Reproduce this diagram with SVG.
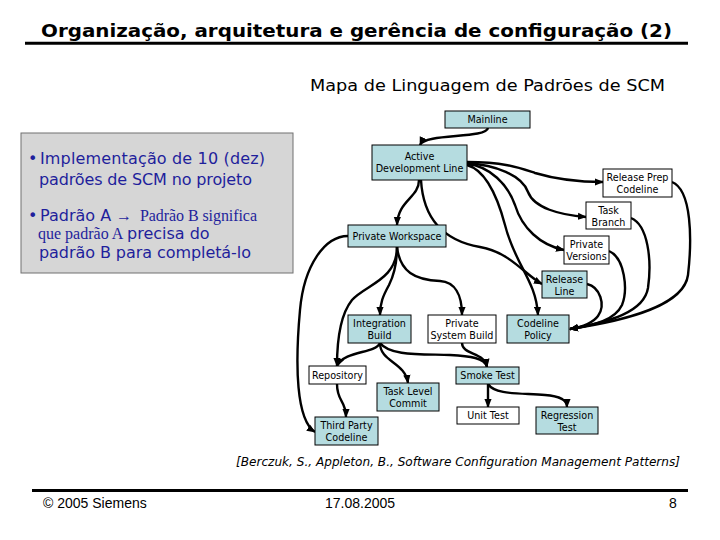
<svg xmlns="http://www.w3.org/2000/svg" width="720" height="540" viewBox="0 0 720 540">
<style>
.n rect{stroke:#000;stroke-width:1}
.f{fill:#b5dce0}
.w{fill:#fff}
.n text{font-family:"DejaVu Sans",Verdana,sans-serif;font-size:9.6px;fill:#000;text-anchor:middle}
.e path{fill:none;stroke:#000;stroke-width:2.4;marker-end:url(#ah)}
.bl{font-family:"DejaVu Sans",Verdana,sans-serif;font-size:16px;fill:#1f1f9c}
.sr{font-family:"Liberation Serif","Times New Roman",serif;font-size:16px;fill:#1f1f9c}
.ft{font-family:"Liberation Sans",Arial,sans-serif;font-size:14px;fill:#000}
</style>
<defs>
<marker id="ah" viewBox="0 0 10 8" refX="9" refY="4" markerWidth="9" markerHeight="8" markerUnits="userSpaceOnUse" orient="auto">
<path d="M0,0 L10,4 L0,8 Z" fill="#000"/>
</marker>
</defs>
<rect width="720" height="540" fill="#fff"/>
<g id="title">
<text x="41" y="36.5" font-family="'DejaVu Sans',Verdana,sans-serif" font-weight="bold" font-size="18.5" textLength="631" lengthAdjust="spacingAndGlyphs">Organização, arquitetura e gerência de configuração (2)</text>
<line x1="25" y1="43.3" x2="688" y2="43.3" stroke="#000" stroke-width="3"/>
</g>
<text id="subtitle" x="310" y="91" font-family="'DejaVu Sans',Verdana,sans-serif" font-size="16.5" textLength="355" lengthAdjust="spacingAndGlyphs">Mapa de Linguagem de Padrões de SCM</text>
<g id="notes">
<rect x="21" y="133" width="272" height="140" fill="#d6d6d6" stroke="#707070" stroke-width="1"/>
<text class="bl" x="28" y="164">•<tspan x="40" textLength="225">Implementação de 10 (dez)</tspan></text>
<text class="bl" x="39" y="185" textLength="213">padrões de SCM no projeto</text>
<text class="bl" x="28" y="221">•<tspan x="40">Padrão A</tspan><tspan class="sr" x="116">→</tspan><tspan class="sr" x="140" textLength="117">Padrão B significa</tspan></text>
<text class="sr" x="38" y="239">que padrão A<tspan class="bl" x="127">precisa do</tspan></text>
<text class="bl" x="39" y="258" textLength="212">padrão B para completá-lo</text>
</g>
<g id="connectors" class="e">
<path d="M488,128 C486,139 425,133 420,145"/>
<path d="M467,162 C505,162 520,168 535,173 C555,179 580,182 603,182"/>
<path d="M467,163 C495,165 522,175 528,192 C534,208 560,215 586,217"/>
<path d="M467,164 C490,166 508,185 515,205 C522,228 540,245 564,250"/>
<path d="M467,165 C485,170 497,195 505,225 C515,265 536,280 538,315"/>
<path d="M421,180 C423,215 440,240 480,247 C510,252 525,275 542,284"/>
<path d="M419,180 C419,198 398,200 397,225"/>
<path d="M672,182 C692,190 692,240 688,275 C684,305 630,320 570,329"/>
<path d="M631,218 C648,225 652,260 648,288 C644,312 610,322 570,329"/>
<path d="M609,251 C625,258 628,290 622,305 C615,320 595,325 570,329"/>
<path d="M587,284 C600,287 606,305 598,316 C592,324 582,327 570,329"/>
<path d="M348,236 C325,236 304,265 300,310 C295,365 296,420 315,432"/>
<path d="M397,247 C397,265 394,275 389,285 C383,296 380,303 380,315"/>
<path d="M397,247 C400,272 415,280 440,281 C455,282 462,295 462,315"/>
<path d="M397,247 C397,280 365,285 352,300 C340,315 337,340 337,366"/>
<path d="M380,343 C375,354 345,350 337,366"/>
<path d="M380,343 C380,362 405,362 408,383"/>
<path d="M380,343 C390,356 420,354 450,355 C470,356 485,358 487,367"/>
<path d="M462,343 C462,355 485,352 487,367"/>
<path d="M337,384 C337,402 346,400 346,417"/>
<path d="M488,384 L488,407"/>
<path d="M488,384 C495,395 520,393 545,395 C560,396 567,400 567,407"/>
</g>
<g id="mainline" class="n"><rect class="f" x="445" y="111" width="85" height="17"/><text x="487.5" y="123">Mainline</text></g>
<g id="active-dev-line" class="n"><rect class="f" x="372" y="145" width="95" height="35"/><text x="419.5" y="160">Active</text><text x="419.5" y="172">Development Line</text></g>
<g id="release-prep" class="n"><rect class="w" x="603" y="169" width="69" height="28"/><text x="637.5" y="180.5">Release Prep</text><text x="637.5" y="192.5">Codeline</text></g>
<g id="task-branch" class="n"><rect class="w" x="586" y="202" width="45" height="27"/><text x="608.5" y="213.5">Task</text><text x="608.5" y="225.5">Branch</text></g>
<g id="private-versions" class="n"><rect class="w" x="564" y="236" width="45" height="28"/><text x="586.5" y="247.5">Private</text><text x="586.5" y="259.5">Versions</text></g>
<g id="private-workspace" class="n"><rect class="f" x="348" y="225" width="98" height="22"/><text x="397" y="239.5">Private Workspace</text></g>
<g id="release-line" class="n"><rect class="f" x="542" y="271" width="45" height="27"/><text x="564.5" y="282.5">Release</text><text x="564.5" y="294.5">Line</text></g>
<g id="codeline-policy" class="n"><rect class="f" x="507" y="315" width="62" height="28"/><text x="538" y="326.5">Codeline</text><text x="538" y="338.5">Policy</text></g>
<g id="integration-build" class="n"><rect class="f" x="348" y="315" width="63" height="28"/><text x="379.5" y="326.5">Integration</text><text x="379.5" y="338.5">Build</text></g>
<g id="private-system-build" class="n"><rect class="w" x="428" y="315" width="68" height="28"/><text x="462" y="326.5">Private</text><text x="462" y="338.5">System Build</text></g>
<g id="repository" class="n"><rect class="w" x="309" y="366" width="57" height="18"/><text x="337.5" y="378.5">Repository</text></g>
<g id="smoke-test" class="n"><rect class="f" x="456" y="367" width="63" height="17"/><text x="487.5" y="379">Smoke Test</text></g>
<g id="task-level-commit" class="n"><rect class="f" x="377" y="383" width="62" height="28"/><text x="408" y="394.5">Task Level</text><text x="408" y="406.5">Commit</text></g>
<g id="unit-test" class="n"><rect class="w" x="457" y="407" width="62" height="17"/><text x="488" y="419">Unit Test</text></g>
<g id="regression-test" class="n"><rect class="f" x="536" y="407" width="62" height="27"/><text x="567" y="418.5">Regression</text><text x="567" y="430.5">Test</text></g>
<g id="third-party-codeline" class="n"><rect class="f" x="315" y="417" width="63" height="28"/><text x="346.5" y="428.5">Third Party</text><text x="346.5" y="440.5">Codeline</text></g>
<text id="citation" x="236" y="466" font-family="'DejaVu Sans',Verdana,sans-serif" font-style="italic" font-size="12" textLength="444" lengthAdjust="spacingAndGlyphs">[Berczuk, S., Appleton, B., Software Configuration Management Patterns]</text>
<g id="footer">
<line x1="32" y1="490.5" x2="688" y2="490.5" stroke="#000" stroke-width="3"/>
<text class="ft" x="43" y="508">© 2005 Siemens</text>
<text class="ft" x="325" y="508">17.08.2005</text>
<text class="ft" x="669" y="508">8</text>
</g>
</svg>
